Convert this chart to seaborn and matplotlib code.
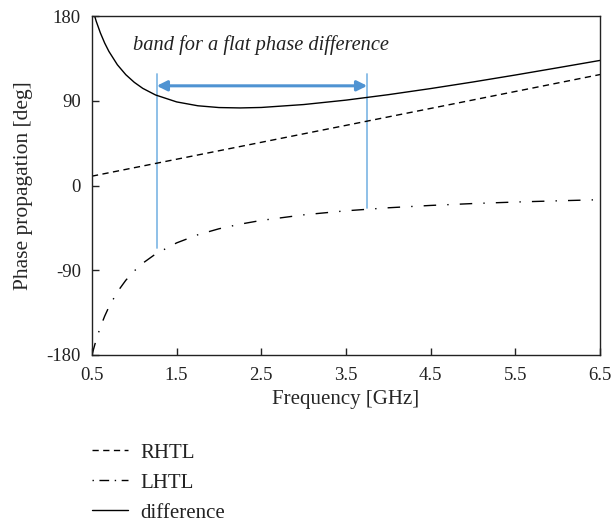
import matplotlib
matplotlib.use("Agg")
import matplotlib.pyplot as plt
import seaborn as sns
import pandas as pd

# ---- data ----
freq = [0.5, 0.55, 0.6, 0.65, 0.7, 0.8, 0.9, 1.0, 1.1, 1.25, 1.5, 1.75, 2.0,
        2.25, 2.5, 3.0, 3.5, 4.0, 4.5, 5.0, 5.5, 6.0, 6.5]
rhtl = [10.0, 10.9, 11.8, 12.7, 13.6, 15.4, 17.2, 19.0, 20.8, 23.5, 28.0, 32.5, 37.0,
        41.5, 46.0, 55.0, 64.0, 73.0, 82.0, 91.0, 100.0, 109.0, 118.0]
lhtl = [-180.0, -163.8, -150.3, -138.8, -129.0, -113.0, -100.6, -90.7, -82.5, -72.8,
        -60.9, -52.3, -45.9, -41.0, -37.0, -31.1, -26.8, -23.6, -21.1, -19.1, -17.5,
        -16.2, -15.0]
difference = [190.0, 174.7, 162.1, 151.5, 142.6, 128.4, 117.8, 109.7, 103.3, 96.3,
              88.9, 84.8, 82.9, 82.5, 83.0, 86.1, 90.8, 96.6, 103.1, 110.1, 117.5,
              125.2, 133.0]
band_edges = [1.265, 3.75]
band_line_bottom = [-66, -24]
band_line_top = 119
arrow_level = 106
x_ticks = [0.5, 1.5, 2.5, 3.5, 4.5, 5.5, 6.5]
x_tick_labels = ["0.5", "1.5", "2.5", "3.5", "4.5", "5.5", "6.5"]
y_ticks = [-180, -90, 0, 90, 180]
y_tick_labels = ["-180", "-90", "0", "90", "180"]

df = pd.DataFrame({"freq": freq, "RHTL": rhtl, "LHTL": lhtl, "difference": difference})

sns.set_theme(style="ticks")
plt.rcParams["font.family"] = ["Liberation Serif", "DejaVu Serif"]
plt.rcParams["text.color"] = "#222222"

fig = plt.figure(figsize=(6.13, 5.22), dpi=100)
ax = fig.add_axes([0.150, 0.320, 0.829, 0.649])

blue_line = "#86bbe6"
blue_arrow = "#4f93d2"

for xe, yb in zip(band_edges, band_line_bottom):
    ax.plot([xe, xe], [yb, band_line_top], color=blue_line, lw=1.3, zorder=1)

sns.lineplot(data=df, x="freq", y="RHTL", ax=ax, color="black", lw=1.0,
             linestyle=(0, (4.5, 3.2)), label="RHTL")
sns.lineplot(data=df, x="freq", y="LHTL", ax=ax, color="black", lw=1.0,
             linestyle=(0, (9, 8, 1, 8)), label="LHTL")
sns.lineplot(data=df, x="freq", y="difference", ax=ax, color="black", lw=1.0,
             linestyle="-", label="difference")

ax.annotate("", xy=(band_edges[0], arrow_level), xytext=(band_edges[1], arrow_level),
            arrowprops=dict(arrowstyle="<|-|>", color=blue_arrow, lw=2.2,
                            mutation_scale=15, shrinkA=0, shrinkB=0), zorder=3)
ax.text(2.5, 149, "band for a flat phase difference", style="italic",
        fontsize=14.7, ha="center", va="center", color="#222222")

ax.set_xlim(0.5, 6.5)
ax.set_ylim(-180, 180)
ax.set_xticks(x_ticks)
ax.set_xticklabels(x_tick_labels)
ax.set_yticks(y_ticks)
ax.set_yticklabels(y_tick_labels)
ax.tick_params(direction="in", length=5, width=1.0, labelsize=13.5, colors="#222222",
               top=False, right=False)
ax.tick_params(axis="x", pad=9)
ax.tick_params(axis="y", pad=8)
for s in ax.spines.values():
    s.set_visible(True)
    s.set_linewidth(1.0)
    s.set_color("#222222")
ax.set_xlabel("Frequency [GHz]", fontsize=15)
ax.set_ylabel("Phase propagation [deg]", fontsize=15.5)
ax.xaxis.set_label_coords(0.5, -0.103)
ax.yaxis.set_label_coords(-0.116, 0.5)

handles, labels = ax.get_legend_handles_labels()
ax.get_legend().remove()
leg = fig.legend(handles, labels, loc="upper left", bbox_to_anchor=(0.137, 0.167),
                 frameon=False, fontsize=15, handlelength=1.7, handletextpad=0.62,
                 labelspacing=0.5, borderaxespad=0)
leg_lines = leg.get_lines()
leg_lines[1].set_linestyle((0, (1, 4, 7, 4)))

fig.savefig("out.png", dpi=100)
